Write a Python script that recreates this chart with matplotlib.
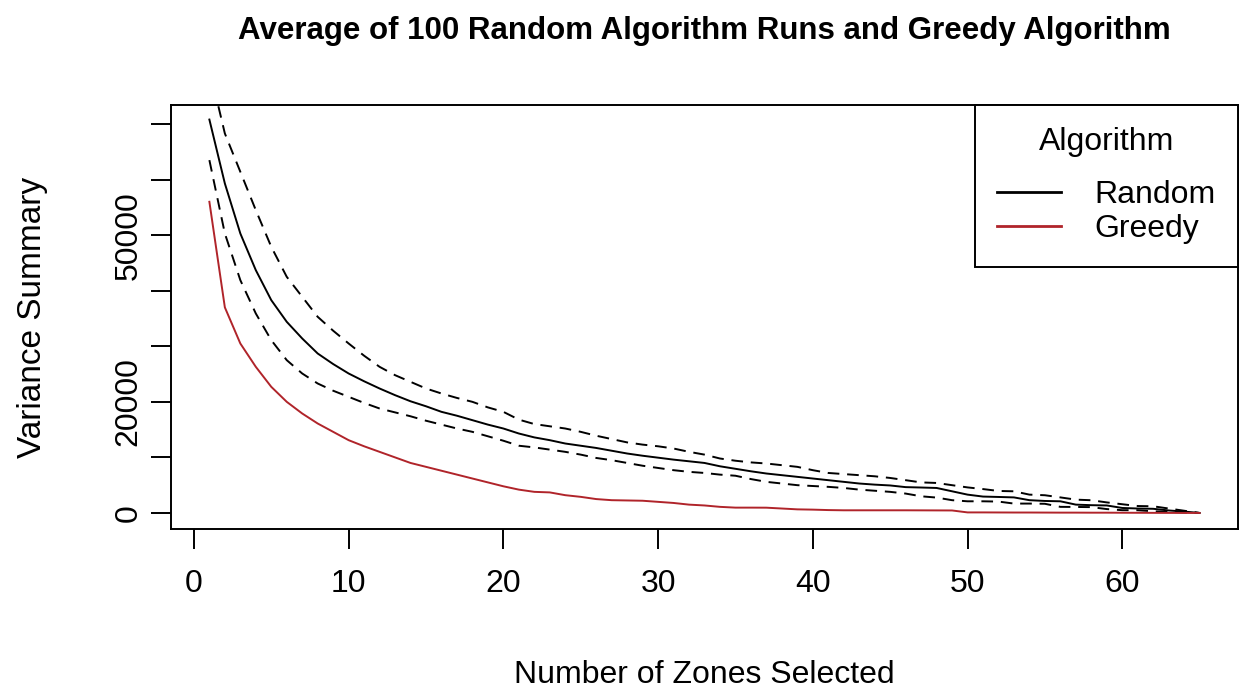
import matplotlib
matplotlib.use("Agg")
import matplotlib.pyplot as plt
from matplotlib.lines import Line2D

plt.rcParams['font.family'] = ['Liberation Sans', 'DejaVu Sans']

# ---------------- data ----------------
zones = list(range(1, 66))

random_mean = [70800, 59300, 50300, 43700, 38300, 34400, 31400, 28700, 26800, 25100,
               23700, 22400, 21200, 20100, 19200, 18200, 17500, 16700, 15900, 15200,
               14300, 13600, 13100, 12500, 12100, 11700, 11200, 10700, 10300, 9950,
               9600, 9300, 9000, 8400, 7950, 7500, 7100, 6800, 6500, 6200,
               5900, 5600, 5300, 5100, 4950, 4650, 4580, 4500, 3900, 3300,
               2950, 2880, 2800, 2300, 2160, 2100, 1500, 1400, 1350, 900,
               800, 750, 450, 250, 0]

random_upper = [80000, 68300, 61400, 54500, 47900, 42500, 38900, 35300, 32800, 30500,
                28300, 26300, 24800, 23600, 22400, 21500, 20700, 20000, 19000, 18200,
                16800, 16000, 15600, 15200, 14600, 13900, 13300, 12700, 12300, 12000,
                11600, 11000, 10500, 9800, 9400, 9100, 8900, 8600, 8300, 7700,
                7200, 7000, 6800, 6600, 6300, 5900, 5500, 5400, 5000, 4600,
                4300, 3960, 3900, 3300, 3190, 2800, 2400, 2290, 1900, 1570,
                1250, 1200, 800, 400, 0]

random_lower = [63500, 50300, 41900, 35900, 31100, 27500, 25100, 23300, 22000, 20900,
                19800, 18800, 18100, 17400, 16600, 15900, 15200, 14600, 13800, 13000,
                12100, 11800, 11400, 11000, 10500, 9900, 9500, 9000, 8500, 8100,
                7700, 7400, 7200, 6900, 6700, 6100, 5600, 5300, 5000, 4850,
                4700, 4500, 4200, 4000, 3800, 3490, 3000, 2770, 2300, 2100,
                2100, 2050, 1690, 1690, 1650, 1100, 1080, 1050, 700, 500,
                490, 300, 200, 100, 0]

greedy = [56000, 37000, 30500, 26300, 22700, 20000, 17900, 16100, 14600, 13100,
          12000, 11000, 10000, 9000, 8300, 7600, 6900, 6200, 5500, 4800,
          4200, 3800, 3700, 3200, 2900, 2500, 2300, 2250, 2200, 2000,
          1800, 1500, 1350, 1100, 960, 960, 950, 800, 650, 600,
          520, 480, 480, 480, 480, 480, 470, 460, 450, 100,
          100, 90, 80, 80, 70, 60, 60, 50, 50, 40,
          30, 20, 10, 5, 0]

x_ticks = [0, 10, 20, 30, 40, 50, 60]
y_ticks = [0, 10000, 20000, 30000, 40000, 50000, 60000, 70000]
y_tick_labels = ['0', '', '20000', '', '', '50000', '', '']

legend_labels = ['Random', 'Greedy']
legend_title = 'Algorithm'
title = 'Average of 100 Random Algorithm Runs and Greedy Algorithm'
x_label = 'Number of Zones Selected'
y_label = 'Variance Summary'

# ---------------- layout ----------------
W, H = 1239, 694
fig = plt.figure(figsize=(W / 100, H / 100), dpi=100)
left, right, top, bottom = 170.7, 1238.3, 105.0, 529.3
ax = fig.add_axes([left / W, 1 - bottom / H, (right - left) / W, (bottom - top) / H])

RED = '#B0242A'
LW = 1.4
dash = (0, (6, 4))

ax.plot(zones, random_mean, color='black', lw=LW)
ax.plot(zones, random_upper, color='black', lw=LW, linestyle=dash)
ax.plot(zones, random_lower, color='black', lw=LW, linestyle=dash)
ax.plot(zones, greedy, color=RED, lw=LW)

ax.set_xlim(-1.5, 67.5)
ax.set_ylim(-2940, 73420)

ax.set_xticks(x_ticks)
ax.set_xticklabels([str(v) for v in x_ticks])
ax.set_yticks(y_ticks)
ax.set_yticklabels(y_tick_labels, rotation=90, va='center')

FS = 23
ax.tick_params(axis='both', length=14.4, width=1.4, labelsize=FS, color='black')
ax.tick_params(axis='x', pad=14)
ax.tick_params(axis='y', pad=5)
for s in ax.spines.values():
    s.set_linewidth(1.4)

ax.set_xlabel(x_label, fontsize=FS)
ax.xaxis.label.set_va('center')
ax.xaxis.set_label_coords(0.5, (bottom - 675) / (bottom - top))
ax.set_ylabel(y_label, fontsize=24)
ax.yaxis.label.set_va('center')
ax.yaxis.set_label_coords((33 - left) / (right - left), 0.5)

fig.text((left + right) / 2 / W, 1 - 31 / H, title, ha='center', va='center',
         fontweight='bold', fontsize=22.5)

handles = [Line2D([], [], color='black', lw=2.0), Line2D([], [], color=RED, lw=2.0)]
leg = ax.legend(handles, legend_labels, title=legend_title, loc='upper right',
                bbox_to_anchor=(1, 1), borderaxespad=0, fancybox=False,
                edgecolor='black', framealpha=1, fontsize=FS, title_fontsize=FS,
                handlelength=2.0, handletextpad=1.05, borderpad=0.7, labelspacing=0.13)
leg.get_frame().set_linewidth(1.4)
# extra gap between the legend title and its entries
leg._legend_box.sep = 0.13 * FS + 13.5

fig.savefig('out.png', dpi=100)
